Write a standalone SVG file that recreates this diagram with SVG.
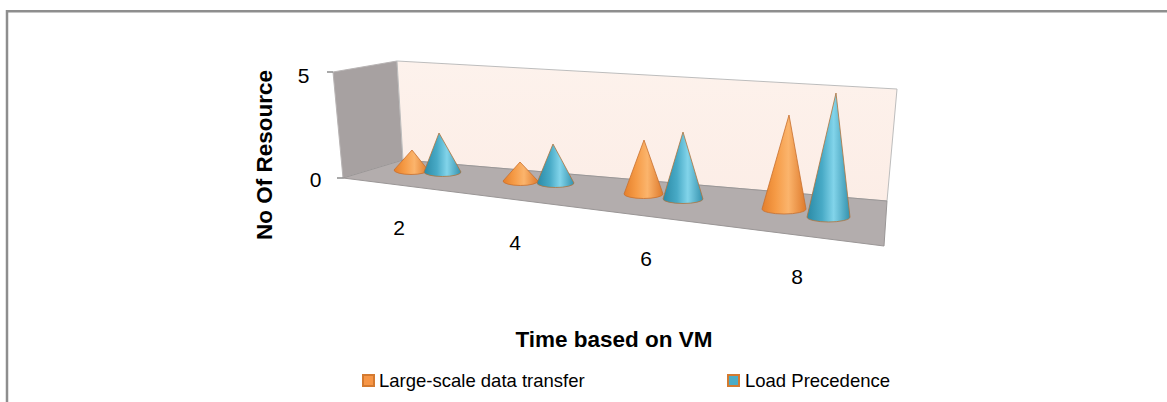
<svg xmlns="http://www.w3.org/2000/svg" width="1167" height="402" viewBox="0 0 1167 402">
<defs>
<style>
text{font-family:"Liberation Sans",Arial,sans-serif;fill:#000}
.lab{font-size:21px;text-anchor:middle}
.ttl{font-size:22.5px;font-weight:bold;text-anchor:middle}
.leg{font-size:18.5px}
.oc{fill:url(#gO);stroke:#C8702E;stroke-width:0.8}
.bc{fill:url(#gB);stroke:#B0743C;stroke-width:0.8}
</style>
<linearGradient id="gO" x1="0" y1="0" x2="1" y2="0">
<stop offset="0" stop-color="#E47F2C"/>
<stop offset="0.3" stop-color="#F59A45"/>
<stop offset="0.6" stop-color="#FBB46C"/>
<stop offset="1" stop-color="#DE7A2C"/>
</linearGradient>
<linearGradient id="gB" x1="0" y1="0" x2="1" y2="0">
<stop offset="0" stop-color="#2B8AA6"/>
<stop offset="0.35" stop-color="#48AAC6"/>
<stop offset="0.62" stop-color="#82D4EA"/>
<stop offset="1" stop-color="#3491AD"/>
</linearGradient>
<linearGradient id="gWall" x1="0" y1="0" x2="0" y2="1">
<stop offset="0" stop-color="#FDF2EC"/>
<stop offset="1" stop-color="#FCEDE6"/>
</linearGradient>
</defs>
<rect width="1167" height="402" fill="#fff"/>
<path d="M7,402 V11.3 H1167" fill="none" stroke="#8E8E8E" stroke-width="2.5"/>

<g id="plot-area">
<polygon id="side-wall" points="333,72 397,61 403,160 343,178" fill="#A7A1A1" stroke="#B8B4B4" stroke-width="1"/>
<polygon id="back-wall" points="397,61 897,89 887,201 403,160" fill="url(#gWall)" stroke="#BDBDBD" stroke-width="1"/>
<polygon id="floor" points="343,178 403,160 887,201 884,246" fill="#B3ADAD" stroke="#9A9696" stroke-width="1"/>
<line x1="327" y1="72" x2="333" y2="72" stroke="#8C8C8C" stroke-width="1.5"/>
<line x1="337" y1="178" x2="343" y2="178" stroke="#8C8C8C" stroke-width="1.5"/>
</g>

<g id="series-large-scale">
<g id="o2"><path class="oc" d="M394,170 L412,150 L428,170 A17,4.5 0 0 1 394,170 Z"/></g>
<g id="o4"><path class="oc" d="M503,181 L520,162 L538,181 A17.5,4.5 0 0 1 503,181 Z"/></g>
<g id="o6"><path class="oc" d="M624,194 L644,140 L663,194 A19.5,4.5 0 0 1 624,194 Z"/></g>
<g id="o8"><path class="oc" d="M762,209 L789,115 L806,209 A22,5 0 0 1 762,209 Z"/></g>
</g>
<g id="series-load-precedence">
<g id="b2"><path class="bc" d="M424,172 L439,133 L461,172 A18.5,4.5 0 0 1 424,172 Z"/></g>
<g id="b4"><path class="bc" d="M537,183 L553,144 L574,183 A18.5,4.5 0 0 1 537,183 Z"/></g>
<g id="b6"><path class="bc" d="M663,199 L683,132 L703,199 A20,4.5 0 0 1 663,199 Z"/></g>
<g id="b8"><path class="bc" d="M807,217 L836,93 L850,217 A21.5,5 0 0 1 807,217 Z"/></g>
</g>

<g id="axis-labels">
<text class="lab" x="303.5" y="83">5</text>
<text class="lab" x="315.5" y="187">0</text>
<text class="lab" x="399" y="235">2</text>
<text class="lab" x="515" y="250">4</text>
<text class="lab" x="646" y="266">6</text>
<text class="lab" x="797" y="284">8</text>
<text class="ttl" transform="translate(272,155) rotate(-90)">No Of Resource</text>
<text class="ttl" x="614" y="347">Time based on VM</text>
</g>

<g id="legend">
<g id="legend-large-scale">
<rect x="363" y="375" width="11" height="11" fill="#F79646" stroke="#D47A30" stroke-width="2"/>
<text class="leg" x="379" y="387">Large-scale data transfer</text>
</g>
<g id="legend-load-precedence">
<rect x="728" y="375" width="11" height="11" fill="#4BACC6" stroke="#D47A30" stroke-width="2"/>
<text class="leg" x="745" y="387">Load Precedence</text>
</g>
</g>
</svg>
